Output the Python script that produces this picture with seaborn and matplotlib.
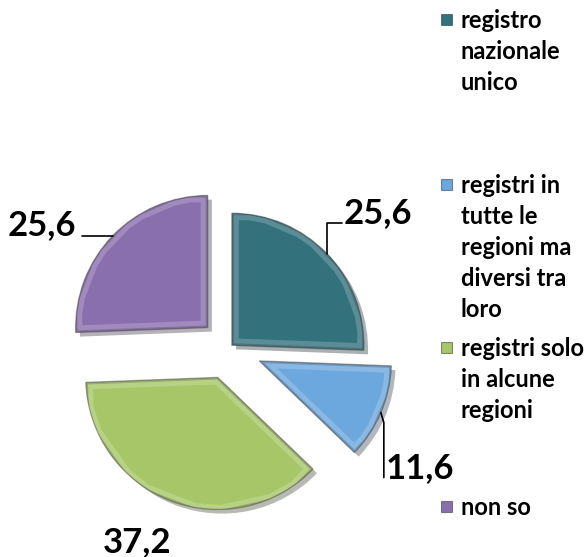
import numpy as np
import matplotlib.pyplot as plt
import matplotlib.patheffects as pe
from matplotlib.patches import Rectangle
import seaborn as sns

# data
categories = ["registro\nnazionale\nunico",
              "registri in\ntutte le\nregioni ma\ndiversi tra\nloro",
              "registri solo\nin alcune\nregioni",
              "non so"]
values = [25.6, 11.6, 37.2, 25.6]
value_labels = ["25,6", "11,6", "37,2", "25,6"]
colors = ["#33717C", "#6CA7DE", "#A6C667", "#8A6FAF"]
explode = [4, 33, 31.5, 29.6]  # pie explode is in data units (pixels here)

sns.set_theme(style="white")
plt.rcParams["font.family"] = ["Lato", "DejaVu Sans"]

W, H = 588, 557
fig = plt.figure(figsize=(W / 100, H / 100), dpi=100)
ax = fig.add_axes([0, 0, 1, 1])

R = 132
C = (229, 209)
wedges, _ = ax.pie(values, colors=colors, startangle=90, counterclock=False,
                   explode=explode, radius=R, center=C,
                   wedgeprops=dict(linewidth=1, edgecolor="#00000055"))

# bevel-like inner band and drop shadow
for w, col in zip(wedges, colors):
    w.set_path_effects([pe.SimplePatchShadow(offset=(3, -3), alpha=0.35), pe.Normal()])
    band = ax.add_patch(plt.Polygon(w.get_path().vertices, closed=True,
                                    transform=w.get_transform(), fill=False,
                                    edgecolor="white", alpha=0.2, linewidth=10))
    band.set_clip_path(w)
    dark = ax.add_patch(plt.Polygon(w.get_path().vertices, closed=True,
                                    transform=w.get_transform(), fill=False,
                                    edgecolor="black", alpha=0.18, linewidth=3))
    dark.set_clip_path(w)

ax.set_xlim(0, W)
ax.set_ylim(0, H)
ax.set_aspect("equal")
ax.axis("off")

lab_kw = dict(fontsize=25, fontweight="bold", color="black", va="center")


def anchor(w):
    mid = np.deg2rad((w.theta1 + w.theta2) / 2)
    return w.center[0] + w.r * np.cos(mid), w.center[1] + w.r * np.sin(mid)


# teal label with leader line
x0, y0 = anchor(wedges[0])
ax.plot([x0, x0, x0 + 15], [y0, y0 + 31, y0 + 31], color="black", lw=1.2)
ax.text(x0 + 17, y0 + 41, value_labels[0], ha="left", **lab_kw)

# blue label
x1, y1 = anchor(wedges[1])
ax.plot([x1, x1 + 3, x1 + 3], [y1, y1 - 10, y1 - 65], color="black", lw=1.2)
ax.text(x1 + 5, y1 - 55, value_labels[1], ha="left", **lab_kw)

# green label (no leader)
ax.text(137, 557 - 542, value_labels[2], ha="center", **lab_kw)

# purple label with leader line
x3, y3 = anchor(wedges[3])
ax.plot([x3, x3 - 31], [y3, y3], color="black", lw=1.2)
ax.text(x3 - 36, y3 + 11, value_labels[3], ha="right", **lab_kw)

# legend
leg_tops = [11, 176, 339, 498]
for lab, col, top in zip(categories, colors, leg_tops):
    yt = H - top
    ax.add_patch(Rectangle((441, yt - 14), 11, 11, facecolor=col,
                           edgecolor="#00000066", lw=0.8))
    ax.text(461, yt + 2, lab, ha="left", va="top", fontsize=17,
            fontweight="bold", linespacing=1.42, color="black")

fig.savefig("out.png", dpi=100, facecolor="white")
